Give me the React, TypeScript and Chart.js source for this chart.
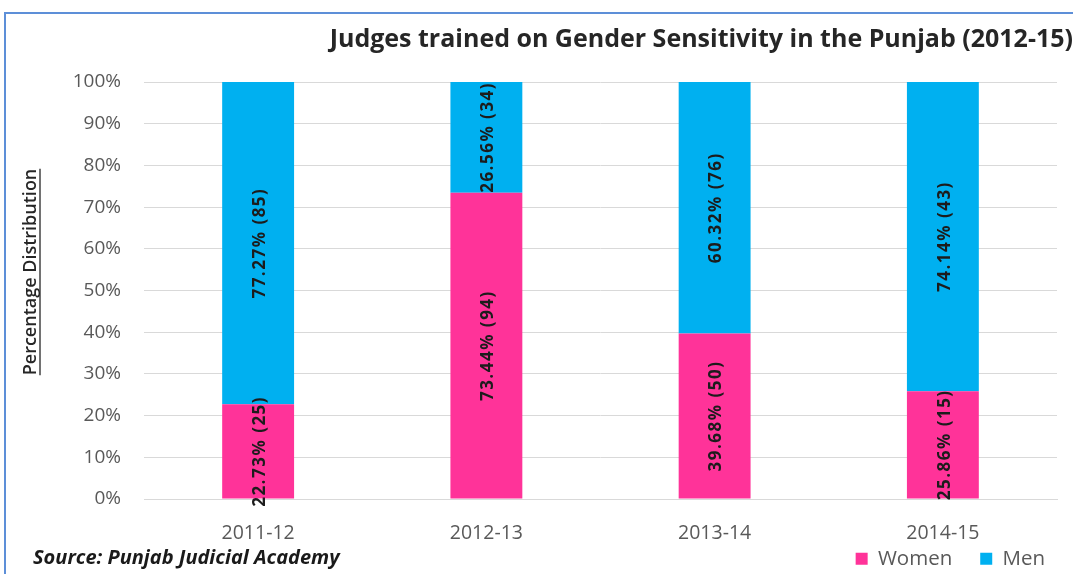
import React, { useEffect, useRef } from 'react';
import { Chart, registerables } from 'chart.js';

Chart.register(...registerables);

const categories = ['2011-12', '2012-13', '2013-14', '2014-15'];
const womenPct = [22.73, 73.44, 39.68, 25.86];
const menPct = [77.27, 26.56, 60.32, 74.14];
const womenCount = [25, 94, 50, 15];
const menCount = [85, 34, 76, 43];
const seriesNames = ['Women', 'Men'];
const titleText = 'Judges trained on Gender Sensitivity in the Punjab (2012-15)';
const yAxisTitle = 'Percentage Distribution';
const sourceText = 'Source: Punjab Judicial Academy';

const PINK = '#FF3399';
const BLUE = '#00B0F0';
const FONT = '"Open Sans", "Noto Sans", sans-serif';

const barLabelsPlugin = {
  id: 'barLabels',
  afterDatasetsDraw(chart: any) {
    const ctx = chart.ctx;
    const counts = [womenCount, menCount];
    const pcts = [womenPct, menPct];
    chart.data.datasets.forEach((_ds: any, di: number) => {
      const meta = chart.getDatasetMeta(di);
      meta.data.forEach((el: any, i: number) => {
        const { x, y, base } = el.getProps(['x', 'y', 'base'], true);
        const cy = (y + base) / 2;
        const text = pcts[di][i].toFixed(2) + '% (' + counts[di][i] + ')';
        ctx.save();
        ctx.translate(x + 2, cy);
        ctx.rotate(-Math.PI / 2);
        ctx.font = 'bold 17px ' + FONT;
        (ctx as any).letterSpacing = '1.5px';
        ctx.fillStyle = '#1c1c1c';
        ctx.textAlign = 'center';
        ctx.textBaseline = 'middle';
        ctx.fillText(text, 0, 0);
        ctx.restore();
      });
    });
  },
};

const legendPlacePlugin = {
  id: 'legendPlace',
  afterLayout(chart: any) {
    const lg = chart.legend;
    if (!lg) return;
    const h = lg.bottom - lg.top;
    lg.top = 520.5;
    lg.bottom = 520.5 + Math.max(h, 59);
  },
};

const extrasPlugin = {
  id: 'extras',
  afterDraw(chart: any) {
    const ctx = chart.ctx;
    // y axis title, rotated and underlined
    ctx.save();
    ctx.translate(31, 272);
    ctx.rotate(-Math.PI / 2);
    ctx.font = '600 18px ' + FONT;
    ctx.fillStyle = '#262626';
    ctx.textAlign = 'center';
    ctx.textBaseline = 'middle';
    ctx.fillText(yAxisTitle, 0, 0);
    const w = ctx.measureText(yAxisTitle).width;
    ctx.strokeStyle = '#262626';
    ctx.lineWidth = 1.3;
    ctx.beginPath();
    ctx.moveTo(-w / 2, 9);
    ctx.lineTo(w / 2, 9);
    ctx.stroke();
    ctx.restore();
    // source note
    ctx.save();
    ctx.font = 'italic bold 20px ' + FONT;
    ctx.fillStyle = '#1a1a1a';
    ctx.textAlign = 'left';
    ctx.textBaseline = 'middle';
    ctx.fillText(sourceText, 33, 558);
    ctx.restore();
  },
};

export default function App() {
  const ref = useRef<HTMLCanvasElement | null>(null);
  useEffect(() => {
    if (!ref.current) return;
    const chart = new Chart(ref.current, {
      type: 'bar',
      data: {
        labels: categories,
        datasets: [
          { label: seriesNames[0], data: womenPct, backgroundColor: PINK, borderWidth: 0 },
          { label: seriesNames[1], data: menPct, backgroundColor: BLUE, borderWidth: 0 },
        ],
      },
      options: {
        responsive: false,
        animation: false,
        devicePixelRatio: 1,
        datasets: { bar: { barPercentage: 0.315, categoryPercentage: 1 } },
        layout: { padding: { left: 0, right: 0, top: 0, bottom: 32 } },
        plugins: {
          title: {
            display: true,
            text: titleText,
            align: 'end',
            color: '#262626',
            font: { family: FONT, size: 25, weight: 'bold' },
            padding: { top: 25, bottom: 27 },
          },
          legend: {
            display: true,
            position: 'bottom',
            align: 'end',
            maxHeight: 1,
            labels: {
              boxWidth: 12,
              boxHeight: 12,
              padding: 28,
              color: '#595959',
              font: { family: FONT, size: 20.5 },
            },
          },
          tooltip: { enabled: false },
        },
        scales: {
          x: {
            stacked: true,
            grid: { display: false, drawTicks: false },
            border: { display: true, color: '#D9D9D9', width: 1 },
            ticks: { color: '#595959', font: { family: FONT, size: 19.5 }, padding: 23 },
            afterFit: (s: any) => { s.height = 42; },
          },
          y: {
            stacked: true,
            min: 0,
            max: 100,
            grid: { color: '#D9D9D9', drawTicks: false },
            border: { display: false },
            ticks: {
              stepSize: 10,
              color: '#595959',
              font: { family: FONT, size: 19 },
              padding: 23,
              callback: (v: any) => v + '%',
            },
            afterFit: (s: any) => { s.width = 144; },
          },
          y2: {
            position: 'right',
            display: true,
            grid: { display: false, drawTicks: false },
            border: { display: false },
            ticks: { display: false },
            afterFit: (s: any) => { s.width = 16; },
          },
        },
      },
      plugins: [barLabelsPlugin, legendPlacePlugin, extrasPlugin],
    } as any);
    return () => chart.destroy();
  }, []);

  return (
    <div style={{ position: 'absolute', left: 0, top: 0, width: 1073, height: 574, overflow: 'hidden', background: '#fff' }}>
      <canvas ref={ref} width={1073} height={574} style={{ position: 'absolute', left: 0, top: 0 }} />
      <div style={{ position: 'absolute', left: 4, top: 12, width: 1200, height: 700, borderTop: '2px solid #5D8FD8', borderLeft: '2px solid #5D8FD8', pointerEvents: 'none' }} />
    </div>
  );
}
